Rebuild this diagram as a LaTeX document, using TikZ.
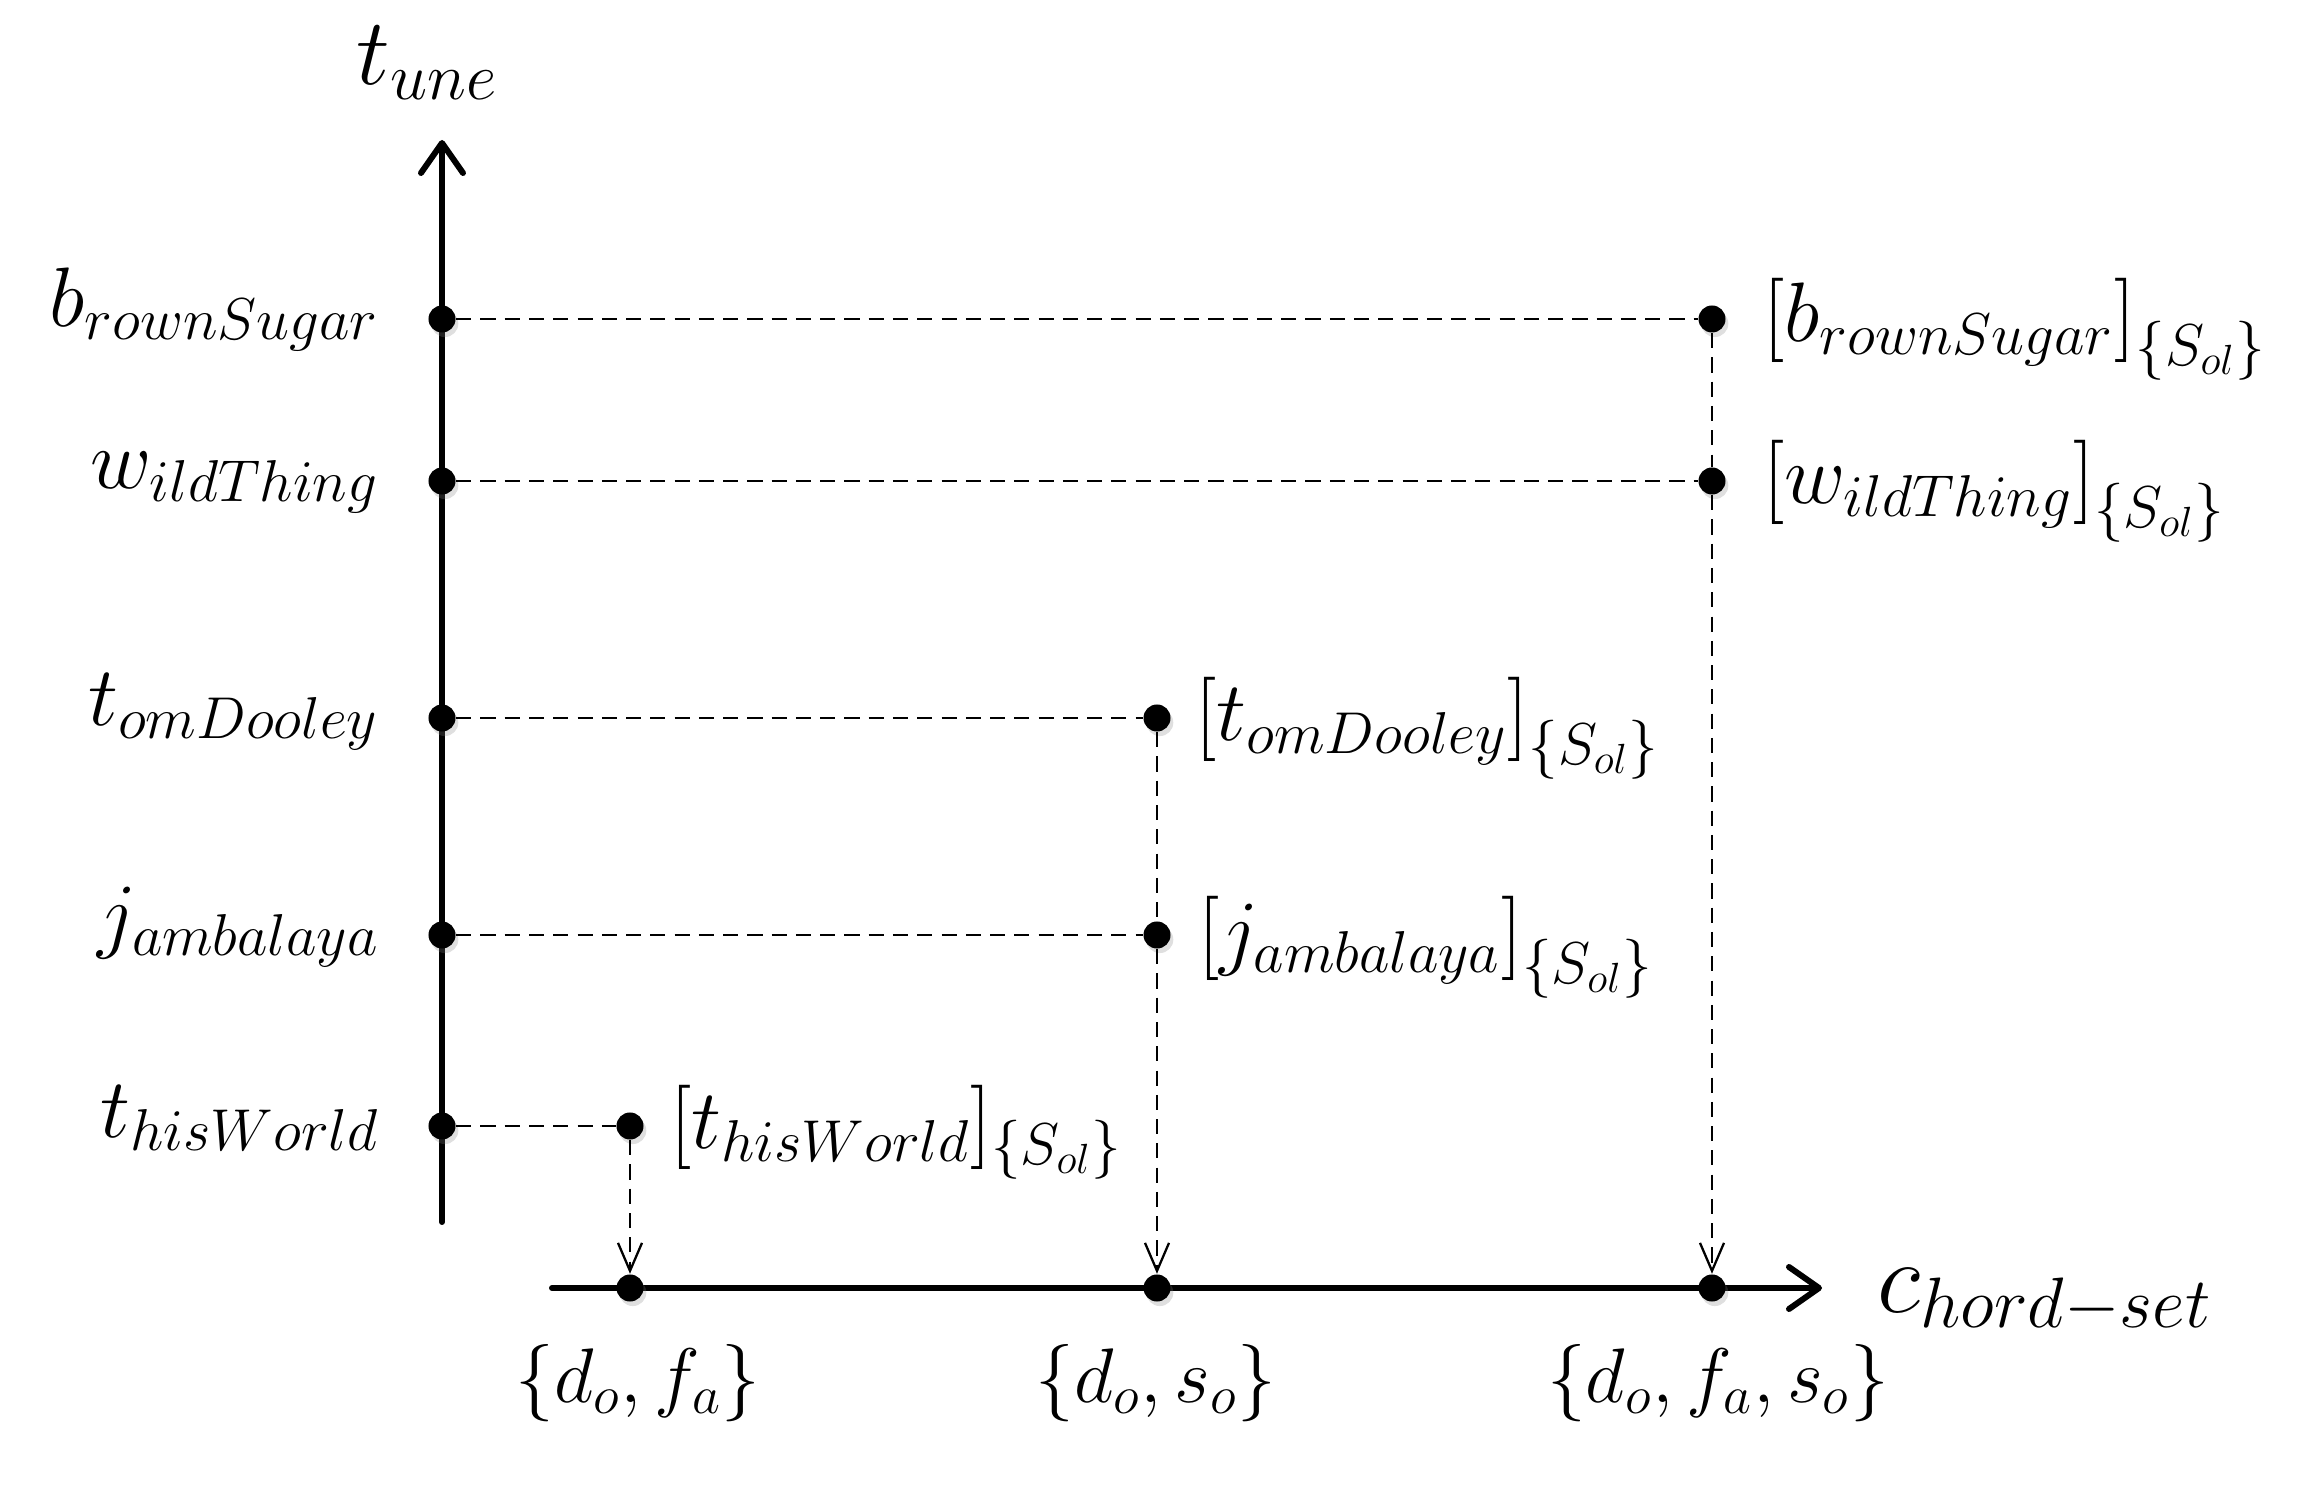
\RequirePackage{fix-cm}
\documentclass[tikz,border=0pt]{standalone}
\usetikzlibrary{arrows.meta,shadows}
\begin{document}
\begin{tikzpicture}[x=0.01cm,y=0.01cm,
  dotnode/.style={circle,fill=black,inner sep=0pt,minimum size=0.27cm,
    drop shadow={shadow xshift=0.8pt,shadow yshift=-1.3pt,opacity=0.25}},
  axisline/.style={line width=1.7pt,line cap=round,
    -{Straight Barb[length=0.3cm,width=0.42cm,line cap=round,line join=round]}},
  guide/.style={line width=0.65pt,dash pattern=on 4.3pt off 2.6pt},
  guidearrow/.style={guide,-{Straight Barb[length=0.28cm,width=0.24cm]}},
  lbl/.style={inner sep=0pt,font=\fontsize{24}{29}\selectfont},
  setlbl/.style={inner sep=0pt,font=\fontsize{22}{27}\selectfont},
  biglbl/.style={inner sep=0pt,font=\fontsize{27}{32}\selectfont},
  axlbl/.style={inner sep=0pt,font=\fontsize{29}{34}\selectfont}
]
\useasboundingbox (0,0) rectangle (2308,1484);

% axes
\coordinate (yb) at (442,262);
\coordinate (yt) at (442,1344);
\coordinate (xl) at (552,196);
\coordinate (xr) at (1822,196);
\draw[axisline] (yb) -- (yt);
\draw[axisline] (xl) -- (xr);

\node[biglbl,anchor=base west] (tune) at (356,1399) {$t_{une}$};
\node[axlbl,anchor=base west] (chord) at (1877,172) {$c_{hord-set}$};

% dots on vertical axis
\node[dotnode] (bsL) at (442,1165) {};
\node[dotnode] (wtL) at (442,1003) {};
\node[dotnode] (tdL) at (442,766) {};
\node[dotnode] (jbL) at (442,549) {};
\node[dotnode] (twL) at (442,358) {};

% right dots
\node[dotnode] (bsR) at (1712,1165) {};
\node[dotnode] (wtR) at (1712,1003) {};
\node[dotnode] (tdR) at (1157,766) {};
\node[dotnode] (jbR) at (1157,549) {};
\node[dotnode] (twR) at (630,358) {};

% dots on horizontal axis
\node[dotnode] (x1) at (630,196) {};
\node[dotnode] (x2) at (1157,196) {};
\node[dotnode] (x3) at (1712,196) {};

% left labels
\node[lbl,anchor=base east] (bsT) at (380,1157) {$b_{rownSugar}$};
\node[lbl,anchor=base east] (wtT) at (380,995) {$w_{ildThing}$};
\node[lbl,anchor=base east] (tdT) at (380,758) {$t_{omDooley}$};
\node[lbl,anchor=base east] (jbT) at (380,541) {$j_{ambalaya}$};
\node[lbl,anchor=base east] (twT) at (380,346) {$t_{hisWorld}$};

% right labels
\node[lbl,anchor=base west] (bsX) at (1763,1142) {$\bigl[b_{rownSugar}\bigr]_{\{S_{ol}\}}$};
\node[lbl,anchor=base west] (wtX) at (1763,980) {$\bigl[w_{ildThing}\bigr]_{\{S_{ol}\}}$};
\node[lbl,anchor=base west] (tdX) at (1195,743) {$\bigl[t_{omDooley}\bigr]_{\{S_{ol}\}}$};
\node[lbl,anchor=base west] (jbX) at (1198,524) {$\bigl[j_{ambalaya}\bigr]_{\{S_{ol}\}}$};
\node[lbl,anchor=base west] (twX) at (670,335) {$[t_{hisWorld}]_{\{S_{ol}\}}$};

% bottom labels
\node[setlbl,anchor=base] (s1) at (638,82) {$\{d_o,f_a\}$};
\node[setlbl,anchor=base] (s2) at (1156,82) {$\{d_o,s_o\}$};
\node[setlbl,anchor=base] (s3) at (1718,82) {$\{d_o,f_a,s_o\}$};

% horizontal guides
\draw[guide] (bsL) -- (bsR);
\draw[guide] (wtL) -- (wtR);
\draw[guide] (tdL) -- (tdR);
\draw[guide] (jbL) -- (jbR);
\draw[guide] (twL) -- (twR);

% vertical guides
\draw[guide] (bsR) -- (wtR);
\draw[guidearrow] (wtR) -- (x3);
\draw[guide] (tdR) -- (jbR);
\draw[guidearrow] (jbR) -- (x2);
\draw[guidearrow] (twR) -- (x1);
\end{tikzpicture}
\end{document}
